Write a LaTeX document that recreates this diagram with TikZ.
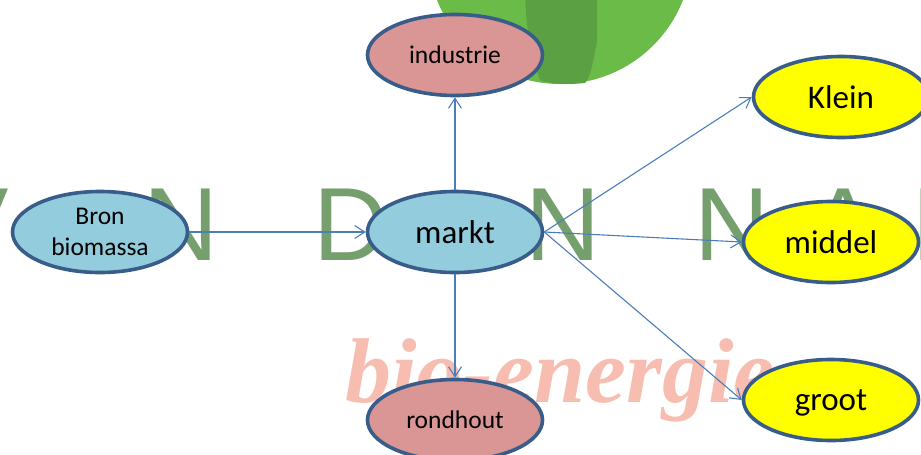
\documentclass[tikz,border=0pt]{standalone}
\usepackage{fontspec}
\setmainfont{Carlito}
\newfontfamily\wmsans{Liberation Sans}
\newfontfamily\wmserif{Liberation Serif}
\usetikzlibrary{shapes.geometric,arrows.meta}
\definecolor{edgeblue}{HTML}{385D8A}
\definecolor{linkblue}{HTML}{4A7EBB}
\definecolor{fillblue}{HTML}{92CCDD}
\definecolor{fillred}{HTML}{D99694}
\definecolor{fillyellow}{RGB}{255,255,0}
\definecolor{wmgreen}{HTML}{75A06E}
\definecolor{wmsalmon}{HTML}{F7BDB0}
\definecolor{leaf}{HTML}{6ABB48}
\definecolor{leafdark}{HTML}{5BA043}
\tikzset{
  oval/.style={ellipse,draw=edgeblue,line width=3.6pt,minimum width=175pt,minimum height=81pt,inner sep=0pt,text=black,align=center},
  small/.style={font=\fontsize{25.5}{31}\selectfont},
  large/.style={font=\fontsize{33}{36}\selectfont},
  link/.style={draw=linkblue,line width=1.1pt,-{Straight Barb[length=10pt,width=13pt,line width=1.1pt]}},
  wmletter/.style={text=wmgreen,font=\wmsans\fontsize{104}{104}\selectfont,inner sep=0pt,anchor=base},
}
\begin{document}
\begin{tikzpicture}[x=1pt,y=-1pt]
\useasboundingbox (0,0) rectangle (921,455);
\begin{scope}
\clip (0,0) rectangle (921,455);
\fill[leaf] (560,-48) circle (132);
\fill[leafdark] (525,-10) -- (597,-10) -- (597,40) .. controls (594,60) and (590,78) .. (585,83) .. controls (565,85) and (550,84) .. (540,80) .. controls (530,50) and (526,30) .. (525,-10) -- cycle;
\node[wmletter] (w1) at (-26,260) {V};
\node[wmletter] (w2) at (181,260) {N};
\node[wmletter] (w3) at (351,260) {D};
\node[wmletter] (w4) at (563,260) {N};
\node[wmletter] (w5) at (732,260) {N};
\node[wmletter] (w6) at (843,260) {A};
\node[wmletter] (w7) at (950,260) {N};
\node[text=wmsalmon,font=\wmserif\bfseries\itshape\fontsize{92}{92}\selectfont,inner sep=0pt,anchor=base] (w8) at (560,402) {bio-energie};
\end{scope}
\node[oval,fill=fillred,small] (industrie) at (455,55) {industrie};
\node[oval,fill=fillblue,small] (bron) at (100,232) {Bron\\biomassa};
\node[oval,fill=fillblue,large] (markt) at (455,232) {markt};
\node[oval,fill=fillred,small] (rondhout) at (455,420) {rondhout};
\node[oval,fill=fillyellow,large] (klein) at (841,97) {Klein};
\node[oval,fill=fillyellow,large] (middel) at (831,242) {middel};
\node[oval,fill=fillyellow,large] (groot) at (831,400) {\raisebox{-10pt}[0pt][0pt]{groot}};
\draw[link] (bron.east) -- (markt.west);
\draw[link] (markt.north) -- (industrie.south);
\draw[link] (markt.south) -- (rondhout.north);
\draw[link] (markt.east) -- (klein.west);
\draw[link] (markt.east) -- (middel.west);
\draw[link] (markt.east) -- (groot.west);
\end{tikzpicture}
\end{document}
